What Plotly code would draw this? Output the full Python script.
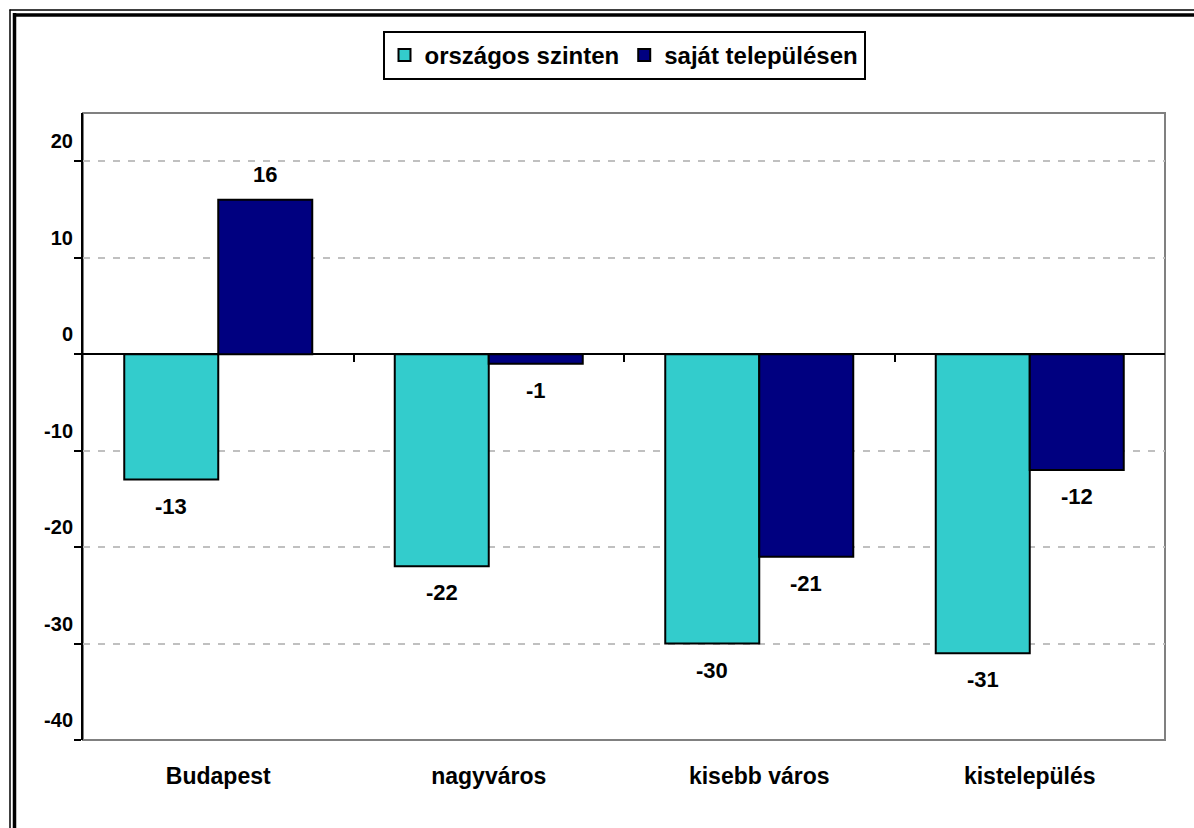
import plotly.graph_objects as go

categories = ["Budapest", "nagyváros", "kisebb város", "kistelepülés"]
orszagos = [-13, -22, -30, -31]
sajat = [16, -1, -21, -12]
series_names = ["országos szinten", "saját településen"]
y_ticks = [-40, -30, -20, -10, 0, 10, 20]

W, H = 1194, 828
ML, MR, MT, MB = 83, 29, 113, 88
PW, PH = W - ML - MR, H - MT - MB
BARGAP = 0.305

FONT = "Arial, Liberation Sans, sans-serif"


def px_x(px):
    return (px - ML) / PW


def px_y(py):
    return (H - MB - py) / PH


fig = go.Figure()
fig.add_trace(go.Bar(x=categories, y=orszagos, name=series_names[0],
                     marker=dict(color="#33CCCC", line=dict(color="black", width=2))))
fig.add_trace(go.Bar(x=categories, y=sajat, name=series_names[1],
                     marker=dict(color="#000080", line=dict(color="black", width=2))))

# value labels above / below each bar
bar_w = PW / len(categories) * (1 - BARGAP) / 2
for vals, sh in [(orszagos, -bar_w / 2), (sajat, bar_w / 2)]:
    for c, v in zip(categories, vals):
        fig.add_annotation(x=c, y=v, text=str(v), showarrow=False, xshift=sh,
                           yanchor="bottom" if v >= 0 else "top",
                           yshift=11 if v >= 0 else -12,
                           font=dict(family=FONT, size=22, color="black", weight="bold"))

# tick marks sitting on the zero line
fig.add_trace(go.Scatter(x=[], y=[], xaxis="x2", showlegend=False))

zero_frac = (0 - (-40)) / (25 - (-40))

fig.update_layout(
    width=W, height=H,
    margin=dict(l=ML, r=MR, t=MT, b=MB),
    paper_bgcolor="white", plot_bgcolor="white",
    barmode="group", bargap=BARGAP, bargroupgap=0,
    font=dict(family=FONT, size=20, color="black", weight="bold"),
    legend=dict(orientation="h", x=0.5, xanchor="center", y=px_y(31), yanchor="top",
                bordercolor="black", borderwidth=2, itemwidth=30,
                font=dict(family=FONT, size=24, color="black", weight="bold")),
    xaxis=dict(showline=False, ticks="", showgrid=False, zeroline=False,
               ticklabelstandoff=20,
               tickfont=dict(family=FONT, size=23, color="black", weight="bold")),
    xaxis2=dict(overlaying="x", anchor="free", position=zero_frac, side="bottom",
                range=[-0.5, 3.5], tickmode="array", tickvals=[0.5, 1.5, 2.5],
                ticks="outside", ticklen=7, tickwidth=2, tickcolor="black",
                showticklabels=False, showgrid=False, zeroline=False, showline=False),
    yaxis=dict(range=[-40, 25], tickmode="array", tickvals=y_ticks,
               ticktext=[str(t) for t in y_ticks],
               showline=True, linecolor="black", linewidth=2,
               ticks="outside", ticklen=7, tickwidth=2, tickcolor="black",
               ticklabelshift=-20, ticklabelstandoff=-3,
               showgrid=True, gridcolor="#C0C0C0", gridwidth=2, griddash="7px,8px",
               zeroline=True, zerolinecolor="black", zerolinewidth=2,
               tickfont=dict(family=FONT, size=20, color="black", weight="bold")),
    shapes=[
        # plot area frame (gray)
        dict(type="rect", xref="paper", yref="paper", x0=0, x1=1, y0=0, y1=1,
             line=dict(color="#808080", width=2), layer="below"),
        # outer double border: top and left
        dict(type="line", xref="paper", yref="paper", x0=px_x(9.5), x1=px_x(W),
             y0=px_y(10), y1=px_y(10), line=dict(color="black", width=1.5)),
        dict(type="line", xref="paper", yref="paper", x0=px_x(13), x1=px_x(W),
             y0=px_y(15), y1=px_y(15), line=dict(color="black", width=3.5)),
        dict(type="line", xref="paper", yref="paper", x0=px_x(10), x1=px_x(10),
             y0=px_y(9.5), y1=px_y(H), line=dict(color="black", width=1.5)),
        dict(type="line", xref="paper", yref="paper", x0=px_x(14.5), x1=px_x(14.5),
             y0=px_y(13), y1=px_y(H), line=dict(color="black", width=3.5)),
    ],
)

fig.write_html("out.html", config={"displayModeBar": False},
               post_script="document.body.style.margin='0';")
